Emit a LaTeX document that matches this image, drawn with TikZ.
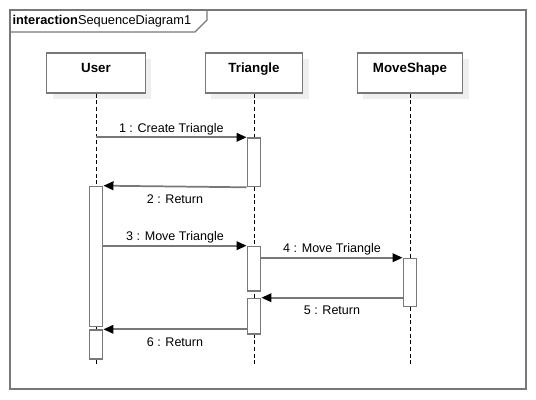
\documentclass[tikz,border=0pt]{standalone}
\usepackage{fontspec}
\setmainfont{Liberation Sans}
\usetikzlibrary{calc,arrows.meta,shadows}
\definecolor{lgray}{HTML}{787878}
\definecolor{sgray}{HTML}{EFEFEF}

\begin{document}
\begin{tikzpicture}[x=0.75pt,y=-0.75pt,
    LL/.style={draw=lgray,line width=1.2pt,fill=white,rectangle,minimum height=30pt,text height=6.5pt,text depth=8pt,font=\fontsize{10}{12}\selectfont\bfseries,
        drop shadow={shadow xshift=4.5pt,shadow yshift=-4.5pt,fill=sgray,opacity=1}},
    ACT/.style={draw=lgray,line width=1.2pt,fill=white,rectangle,minimum width=10pt,inner sep=0pt,anchor=north},
    LIFE/.style={black,line width=0.6pt,dash pattern=on 3pt off 2pt},
    MSG/.style={draw=lgray,line width=1.3pt,-{Triangle[length=7.5pt,width=6.5pt,color=black]}},
    LBL/.style={font=\fontsize{9.4}{11}\selectfont,inner sep=0pt},
    LBLB/.style={LBL,below,inner sep=5.5pt}]
    \useasboundingbox (0,0) rectangle (536,400);
    % Frame and its tab
    \draw[lgray,line width=1.2pt] (10,10) rectangle (526,389);
    \node[anchor=west,inner sep=1pt,font=\fontsize{9.6}{11}\selectfont] (tab) at (11,21) {\textbf{interaction}SequenceDiagram1};
    \draw[lgray,line width=1pt] (10,32) -- (195,32) -- (207,20) -- (207,10);
    % Lifeline heads
    \node[LL,minimum width=74pt] (user) at (96,73) {User};
    \node[LL,minimum width=73pt] (tri) at (254,73) {Triangle};
    \node[LL,minimum width=79pt] (ms) at (410,73) {MoveShape};
    % Lifelines
    \coordinate (bot) at (0,365);
    \draw[LIFE] (user.south) -- (user.south |- bot);
    \draw[LIFE] (tri.south) -- (tri.south |- bot);
    \draw[LIFE] (ms.south) -- (ms.south |- bot);
    % Activation bars
    \node[ACT,minimum height=36.3pt] (tri1) at (254,137.3) {};
    \node[ACT,minimum height=105pt] (user1) at (96,185.7) {};
    \node[ACT,minimum height=33.2pt] (tri2) at (254,245.7) {};
    \node[ACT,minimum height=36pt] (ms1) at (410,257.7) {};
    \node[ACT,minimum height=26.7pt] (tri3) at (254,297.7) {};
    \node[ACT,minimum height=21.75pt] (user2) at (96,329.3) {};
    % Messages
    \draw[MSG] (user.south |- tri1.north) -- node[LBL,above=1pt]{1 : Create Triangle} (tri1.north west);
    \draw[MSG] (tri1.south west) -- node[LBLB]{2 : Return} (user1.north east);
    \draw[MSG] (user1.east |- tri2.north) -- node[LBL,above=1pt]{3 : Move Triangle} (tri2.north west);
    \draw[MSG] (tri2.east |- ms1.north) -- node[LBL,above=1pt]{4 : Move Triangle} (ms1.north west);
    \draw[MSG] (ms1.west |- tri3.north) -- node[LBLB]{5 : Return} (tri3.north east);
    \draw[MSG] (tri3.west |- user2.north) -- node[LBLB]{6 : Return} (user2.north east);
\end{tikzpicture}
\end{document}
